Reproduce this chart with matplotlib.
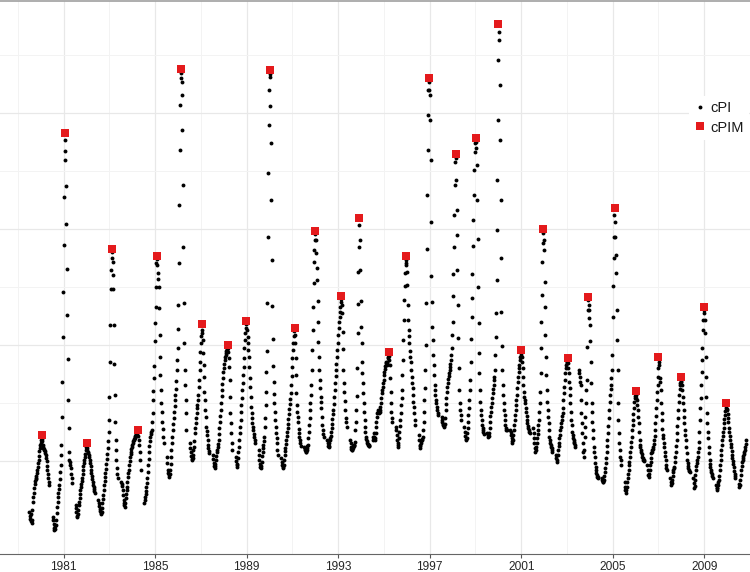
import numpy as np
import matplotlib
matplotlib.use('Agg')
import matplotlib.pyplot as plt
from matplotlib.lines import Line2D

plt.rcParams['font.family'] = ['Liberation Sans', 'DejaVu Sans']

# weekly cPI, one list per calendar year (week 0 = first week of January)
# every year has 7 missing weeks (late May - early July)
GAP = [None] * 7

cpi_1979 = [65, 61, 58, 63, 56, 54, 57, 67, 75, 80, 84, 89, 93, 96, 98, 99, 101, 104, 107, 110, 114, 117, 121, 126, 129, 132]  # from week 26
cpi_1980 = [134, 137, 138, 136, 132, 130, 129, 128, 127, 126, 124, 122, 119, 116, 111, 107, 103, 99, 95, 92] + GAP + [60, 57, 53, 49, 47, 51, 48, 52, 57, 64, 70, 75, 80, 84, 88, 92, 98, 105, 112, 122, 132, 160, 195, 240, 285]
cpi_1981 = [332, 380, 417, 437, 426, 391, 353, 308, 262, 218, 177, 149, 125, 117, 115, 112, 109, 103, 99, 94] + GAP + [72, 69, 65, 61, 60, 63, 67, 72, 75, 79, 83, 87, 90, 93, 96, 99, 103, 107, 111, 114, 117, 120, 123, 127, 130]
cpi_1982 = [131, 129, 127, 125, 124, 122, 120, 117, 114, 111, 107, 104, 101, 98, 95, 92, 90, 88, 86, 84] + GAP + [77, 74, 71, 68, 66, 64, 63, 65, 69, 74, 78, 82, 87, 92, 96, 100, 104, 108, 113, 118, 123, 129, 136, 145, 157]
cpi_1983 = [180, 215, 252, 288, 307, 319, 325, 315, 302, 288, 252, 213, 182, 155, 137, 127, 117, 109, 103, 99] + GAP + [95, 93, 91, 87, 82, 77, 74, 72, 70, 74, 79, 83, 87, 90, 95, 100, 104, 107, 112, 116, 120, 123, 125, 128, 130]
cpi_1984 = [132, 134, 136, 137, 138, 139, 140, 141, 142, 143, 144, 145, 146, 145, 141, 137, 132, 125, 117, 107] + GAP + [74, 77, 80, 83, 86, 90, 94, 99, 105, 112, 118, 125, 131, 136, 140, 143, 145, 147, 155, 164, 177, 186, 199, 211, 236]
cpi_1985 = [254, 270, 290, 314, 318, 312, 304, 298, 290, 269, 242, 220, 202, 187, 174, 165, 155, 148, 140, 134] + GAP + [120, 114, 107, 104, 102, 100, 103, 107, 113, 120, 127, 134, 140, 147, 153, 159, 165, 171, 177, 182, 188, 196, 207, 217, 229]
cpi_1986 = [248, 272, 314, 372, 427, 472, 499, 504, 495, 482, 447, 392, 330, 274, 234, 207, 192, 177, 164, 147] + GAP + [134, 129, 125, 121, 118, 117, 119, 122, 127, 130, 136, 144, 149, 154, 159, 164, 169, 172, 177, 182, 190, 197, 207, 215, 225]
cpi_1987 = [234, 241, 247, 244, 237, 224, 212, 200, 185, 177, 167, 160, 150, 146, 142, 137, 132, 129, 126, 124] + GAP + [122, 118, 114, 111, 109, 111, 113, 117, 121, 125, 127, 130, 133, 137, 143, 149, 155, 161, 167, 174, 181, 187, 193, 199, 205]
cpi_1988 = [209, 213, 217, 220, 222, 224, 226, 227, 228, 229, 225, 219, 210, 197, 180, 164, 154, 144, 134, 127] + GAP + [120, 116, 112, 110, 113, 119, 125, 130, 137, 144, 150, 157, 165, 172, 179, 187, 194, 202, 210, 219, 229, 237, 244, 249, 253]
cpi_1989 = [254, 247, 240, 234, 227, 220, 210, 199, 190, 180, 170, 164, 159, 154, 150, 147, 143, 140, 137, 134] + GAP + [127, 122, 117, 113, 110, 109, 111, 115, 121, 125, 129, 132, 136, 140, 150, 159, 172, 185, 205, 226, 274, 340, 404, 452, 487]
cpi_1990 = [503, 500, 471, 434, 377, 317, 271, 238, 211, 195, 183, 174, 165, 157, 150, 144, 139, 134, 127, 122] + GAP + [119, 115, 112, 110, 109, 112, 117, 122, 126, 129, 133, 137, 141, 145, 149, 153, 158, 163, 168, 173, 178, 184, 192, 201, 210]
cpi_1991 = [219, 227, 234, 241, 246, 242, 234, 219, 202, 184, 172, 165, 160, 155, 148, 144, 140, 137, 134, 131] + GAP + [130, 128, 127, 125, 125, 127, 129, 131, 132, 139, 145, 152, 159, 167, 174, 182, 192, 207, 227, 247, 270, 294, 315, 327, 337]
cpi_1992 = [343, 337, 324, 309, 297, 276, 255, 235, 220, 207, 197, 189, 180, 175, 169, 160, 152, 147, 143, 140] + GAP + [137, 134, 131, 130, 131, 134, 137, 139, 141, 145, 149, 153, 158, 163, 167, 173, 180, 187, 194, 201, 207, 213, 220, 227, 234]
cpi_1993 = [242, 249, 255, 260, 265, 270, 275, 278, 272, 264, 245, 228, 207, 194, 185, 176, 167, 159, 155, 150] + GAP + [137, 134, 130, 128, 127, 127, 129, 131, 132, 131, 132, 135, 147, 155, 167, 181, 209, 244, 273, 305, 330, 352, 337, 307, 276]
cpi_1994 = [250, 234, 215, 204, 194, 184, 174, 165, 157, 150, 145, 140, 138, 136, 134, 133, 132, 132, 131, 131] + GAP + [137, 140, 144, 140, 137, 139, 144, 150, 155, 160, 164, 165, 167, 165, 164, 165, 167, 170, 174, 179, 184, 187, 190, 194, 197]
cpi_1995 = [202, 205, 208, 211, 214, 215, 214, 212, 215, 219, 220, 221, 217, 212, 199, 185, 174, 165, 159, 155] + GAP + [150, 147, 142, 137, 132, 130, 134, 139, 145, 151, 157, 164, 172, 179, 187, 202, 217, 237, 257, 277, 291, 304, 314, 317, 312]
cpi_1996 = [305, 292, 272, 257, 247, 241, 234, 226, 220, 215, 207, 200, 194, 189, 182, 175, 170, 164, 157, 152] + GAP + [142, 137, 132, 129, 131, 134, 136, 137, 138, 140, 147, 155, 165, 177, 189, 207, 232, 274, 328, 382, 427, 462, 487, 495, 487]
cpi_1997 = [482, 457, 417, 355, 301, 275, 250, 237, 222, 212, 202, 192, 187, 182, 177, 174, 170, 167, 164, 162] + GAP + [160, 157, 155, 153, 152, 150, 151, 153, 159, 167, 173, 179, 185, 190, 194, 198, 201, 204, 207, 210, 213, 217, 222, 229, 242]
cpi_1998 = [255, 281, 303, 330, 362, 392, 415, 419, 397, 367, 342, 307, 272, 239, 209, 187, 174, 167, 162, 157] + GAP + [150, 145, 141, 138, 137, 139, 144, 149, 155, 162, 169, 177, 187, 197, 215, 238, 260, 279, 303, 331, 357, 382, 407, 425, 434]
cpi_1999 = [437, 435, 429, 412, 377, 338, 290, 254, 224, 204, 187, 175, 167, 162, 157, 152, 149, 147, 145, 143] + GAP + [144, 142, 140, 141, 144, 149, 155, 161, 165, 170, 174, 179, 184, 188, 192, 197, 200, 207, 222, 240, 264, 297, 347, 397, 457]
cpi_2000 = [517, 545, 537, 492, 437, 377, 319, 265, 231, 207, 192, 182, 174, 167, 162, 157, 152, 149, 147, 147] + GAP + [147, 145, 142, 139, 136, 134, 137, 142, 147, 152, 157, 162, 167, 172, 177, 182, 189, 195, 200, 205, 209, 212, 217, 220, 222]
cpi_2001 = [224, 220, 215, 209, 200, 192, 185, 180, 177, 174, 169, 165, 161, 157, 154, 151, 149, 147, 145, 144] + GAP + [149, 144, 139, 134, 129, 125, 127, 130, 134, 139, 143, 147, 152, 157, 165, 174, 185, 204, 229, 255, 282, 315, 334, 344, 337]
cpi_2002 = [327, 295, 270, 242, 220, 202, 187, 175, 167, 160, 154, 147, 140, 137, 134, 132, 130, 129, 127, 125] + GAP + [122, 119, 115, 117, 122, 127, 131, 134, 139, 142, 147, 150, 154, 157, 161, 164, 169, 177, 184, 190, 197, 204, 209, 212, 214]
cpi_2003 = [215, 216, 214, 209, 204, 195, 189, 182, 174, 165, 157, 152, 145, 142, 139, 137, 135, 134, 132, 130] + GAP + [207, 204, 200, 195, 192, 177, 164, 154, 144, 134, 125, 120, 127, 140, 150, 160, 174, 187, 197, 230, 267, 277, 272, 267, 259]
cpi_2004 = [252, 236, 215, 194, 174, 165, 155, 147, 139, 130, 125, 120, 114, 110, 107, 104, 102, 100, 100, 99] + GAP + [99, 97, 95, 96, 95, 97, 101, 105, 109, 114, 119, 125, 131, 137, 144, 151, 159, 167, 175, 182, 188, 192, 199, 207, 222]
cpi_2005 = [260, 291, 319, 340, 362, 355, 340, 322, 304, 267, 237, 207, 174, 157, 144, 134, 127, 120, 117, 112] + GAP + [95, 90, 87, 84, 87, 90, 95, 99, 103, 107, 112, 115, 120, 125, 130, 135, 140, 147, 152, 157, 163, 169, 175, 179, 181]
cpi_2006 = [182, 183, 179, 177, 172, 167, 160, 154, 145, 137, 132, 130, 127, 125, 123, 120, 119, 117, 117, 116] + GAP + [112, 107, 102, 100, 103, 107, 112, 115, 119, 124, 125, 127, 128, 130, 133, 137, 141, 147, 154, 161, 169, 177, 185, 192, 200]
cpi_2007 = [209, 215, 212, 199, 195, 187, 174, 164, 157, 148, 142, 139, 134, 130, 125, 121, 117, 112, 109, 107] + GAP + [99, 95, 92, 94, 97, 101, 105, 107, 109, 110, 115, 120, 125, 131, 137, 144, 151, 159, 167, 175, 182, 188, 192, 194, 195]
cpi_2008 = [196, 192, 187, 180, 174, 167, 160, 154, 147, 142, 137, 130, 124, 117, 114, 111, 109, 107, 106, 105] + GAP + [99, 94, 89, 91, 97, 102, 107, 111, 114, 117, 120, 125, 129, 135, 145, 157, 169, 179, 192, 205, 217, 229, 247, 257, 264]
cpi_2009 = [267, 257, 244, 220, 200, 180, 164, 154, 145, 139, 130, 124, 117, 113, 110, 107, 105, 103, 101, 99] + GAP + [92, 89, 87, 89, 92, 95, 97, 101, 107, 112, 117, 122, 127, 132, 137, 141, 145, 149, 154, 158, 162, 166, 169, 171, 168]
cpi_2010 = [167, 163, 159, 155, 149, 145, 141, 137, 133, 130, 126, 122, 119, 116, 113, 110, 106, 103, 101, 99] + GAP + [93, 90, 92, 97, 102, 107, 111, 115, 117, 119, 121, 123, 125, 127, 130, 133, 137]

# seasonal maxima (cPIM): decimal year and value
pim_year = [1980.04, 1981.04, 1982.0, 1983.13, 1984.26, 1985.09, 1986.13, 1987.04, 1988.17, 1988.96,
            1990.0, 1991.09, 1992.0, 1993.13, 1993.91, 1995.22, 1995.96, 1996.96, 1998.13, 1999.04,
            2000.0, 2001.0, 2001.96, 2003.04, 2003.91, 2005.09, 2006.0, 2007.0, 2008.0, 2009.0, 2009.96]
pim_value = [142, 444, 134, 328, 147, 321, 508, 253, 232, 256,
             507, 249, 346, 281, 359, 225, 321, 499, 423, 439,
             553, 227, 348, 219, 280, 369, 186, 220, 200, 270, 174]

years = list(range(1979, 2011))
series = [cpi_1979, cpi_1980, cpi_1981, cpi_1982, cpi_1983, cpi_1984, cpi_1985, cpi_1986,
          cpi_1987, cpi_1988, cpi_1989, cpi_1990, cpi_1991, cpi_1992, cpi_1993, cpi_1994,
          cpi_1995, cpi_1996, cpi_1997, cpi_1998, cpi_1999, cpi_2000, cpi_2001, cpi_2002,
          cpi_2003, cpi_2004, cpi_2005, cpi_2006, cpi_2007, cpi_2008, cpi_2009, cpi_2010]

xs, ys = [], []
for yr, vals in zip(years, series):
    start = 26 if yr == 1979 else 0
    weeks = np.arange(start, start + len(vals))
    xs.append(yr + weeks / 52.0)
    ys.append(np.array(vals, dtype=float))
x = np.concatenate(xs)
y = np.concatenate(ys)

fig = plt.figure(figsize=(7.5, 5.72), dpi=100)
ax = fig.add_axes([0, 18 / 572, 1, 553 / 572])

ax.plot(x, y, 'o', color='black', ms=2.8, mew=0, zorder=3)
ax.plot(pim_year, pim_value, 's', color='#E41A1C', ms=5.3, mew=0, zorder=4)

ax.set_xlim(1978.217, 2010.826)
ax.set_ylim(23, 576)

ax.set_xticks(range(1981, 2010, 4))
ax.set_xticks(range(1979, 2012, 4), minor=True)
ax.set_yticks([116, 232, 348, 464])
ax.set_yticks([174, 290, 406, 522], minor=True)
ax.grid(which='major', color='#E8E8E8', lw=0.9)
ax.grid(which='minor', color='#F3F3F3', lw=0.7)
ax.set_axisbelow(True)

ax.tick_params(axis='y', which='both', left=False, labelleft=False)
ax.tick_params(axis='x', which='minor', bottom=False)
ax.tick_params(axis='x', which='major', length=3, width=0.8, color='#555555',
               labelsize=8.6, labelcolor='#262626', pad=2)

ax.spines['left'].set_visible(False)
ax.spines['right'].set_visible(False)
ax.spines['top'].set_color('#A0A0A0')
ax.spines['top'].set_linewidth(1.2)
ax.spines['bottom'].set_color('#666666')
ax.spines['bottom'].set_linewidth(0.8)

h1 = Line2D([], [], ls='none', marker='o', color='black', ms=2.8, mew=0)
h2 = Line2D([], [], ls='none', marker='s', color='#E41A1C', ms=6, mew=0)
leg = ax.legend([h1, h2], ['cPI', 'cPIM'], loc='center left',
                bbox_to_anchor=(689 / 750, 1 - 118 / 572), bbox_transform=fig.transFigure,
                frameon=True, fancybox=False, framealpha=1, edgecolor='none',
                facecolor='white', fontsize=10.5, handlelength=0.7,
                handletextpad=0.35, labelspacing=0.35, borderpad=0.4,
                borderaxespad=0)
for t in leg.get_texts():
    t.set_color('#1a1a1a')
leg.set_zorder(10)

fig.savefig('out.png', dpi=100)
